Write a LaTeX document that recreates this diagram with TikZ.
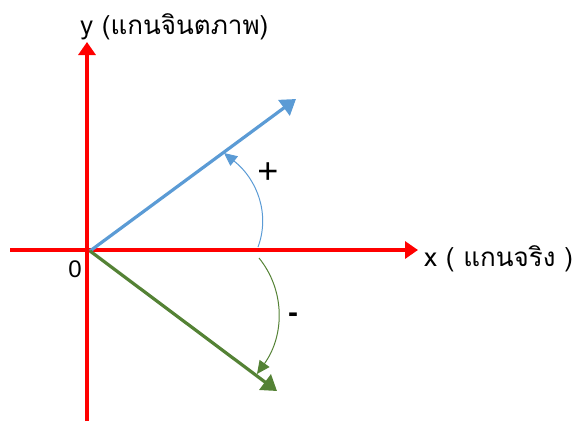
\documentclass[tikz,border=0pt]{standalone}
\usepackage{fontspec}
\setmainfont{Loma}[Script=Thai]
\newfontfamily\symfont{Liberation Sans}
\usetikzlibrary{arrows.meta}
\definecolor{axred}{RGB}{255,0,0}
\definecolor{vblue}{RGB}{91,155,213}
\definecolor{vgreen}{RGB}{84,130,53}
\tikzset{
  axis/.style={draw=axred,line width=3.5pt,-{Triangle[length=13pt,width=17pt]}},
  vec/.style={line width=3.2pt,-{Triangle[length=15pt,width=19pt]}},
  arc/.style={line width=1pt,-{Triangle[length=13pt,width=12pt]}},
  lbl/.style={font=\fontsize{26}{30}\selectfont,inner sep=0pt},
  zro/.style={font=\symfont\fontsize{24}{28}\selectfont,inner sep=0pt},
  sym/.style={font=\symfont\bfseries\fontsize{30}{34}\selectfont,inner sep=0pt},
  plussym/.style={font=\symfont\fontsize{36}{40}\selectfont,inner sep=0pt}
}
\begin{document}
\begin{tikzpicture}[x=1pt,y=-1pt]
\useasboundingbox (0,0) rectangle (576,421);
\coordinate (xs) at (10,250);
\coordinate (xe) at (418,250);
\coordinate (ys) at (87,421);
\coordinate (ye) at (87,42);
\coordinate (o) at (90,251);
\coordinate (b) at (296,99);
\coordinate (g) at (277,391);
\coordinate (ba) at (258,247);
\coordinate (bt) at (224,153);
\coordinate (ga) at (259,258);
\coordinate (gt) at (257,374);
\draw[axis] (ys) -- (ye);
\draw[axis] (xs) -- (xe);
\draw[vec,draw=vblue] (o) -- (b);
\draw[vec,draw=vgreen] (o) -- (g);
\draw[arc,draw=vblue] (ba) .. controls (270,215) and (258,180) .. (bt);
\draw[arc,draw=vgreen] (ga) .. controls (285,290) and (285,335) .. (gt);
\node[lbl,anchor=west] (ylab) at (80,27) {y (แกนจินตภาพ)};
\node[lbl,anchor=west] (xlab) at (424,259) {x ( แกนจริง )};
\node[zro] (zero) at (75,269) {0};
\node[plussym] (plus) at (268,173) {+};
\node[sym] (minus) at (293,318) {-};
\end{tikzpicture}
\end{document}
